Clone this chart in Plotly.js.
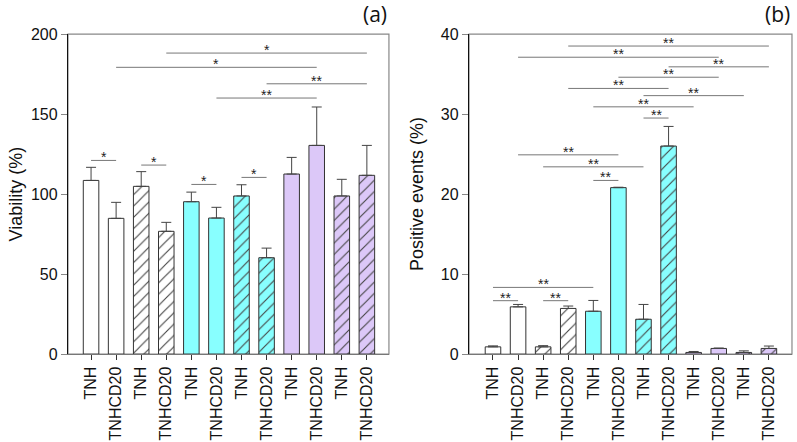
<!DOCTYPE html>
<html>
<head>
<meta charset="utf-8">
<script src="https://cdn.plot.ly/plotly-3.0.1.min.js"></script>
<style>html,body{margin:0;padding:0;background:#fff;}#chart{width:797px;height:442px;}</style>
</head>
<body>
<div id="chart"></div>
<script>
// ---- data ----
const categories = ['TNH','TNHCD20','TNH','TNHCD20','TNH','TNHCD20','TNH','TNHCD20','TNH','TNHCD20','TNH','TNHCD20'];
const viability = [108.5, 84.8, 104.8, 76.7, 95.2, 85.0, 98.8, 60.2, 112.5, 130.4, 98.8, 111.7];
const viabilityErr = [8.2, 10.0, 9.2, 5.6, 6.0, 6.7, 7.0, 6.0, 10.4, 24.0, 10.4, 18.7];
const positive = [0.9, 5.9, 0.9, 5.7, 5.35, 20.8, 4.35, 26.0, 0.2, 0.7, 0.2, 0.7];
const positiveErr = [0.12, 0.3, 0.15, 0.3, 1.35, 0.05, 1.85, 2.45, 0.12, 0.05, 0.2, 0.3];
const barColors = ['#ffffff','#ffffff','#ffffff','#ffffff','#88ffff','#88ffff','#88ffff','#88ffff','#dcc8f8','#dcc8f8','#dcc8f8','#dcc8f8'];
const hatch = ['','','/','/','','','/','/','','','/','/'];

const sigA_from  = [0, 2, 4, 6, 5, 7, 1, 3];
const sigA_to    = [1, 3, 5, 7, 9, 11, 9, 11];
const sigA_y     = [121, 118.1, 106, 110.4, 160, 168.9, 179.2, 188.1];
const sigA_label = ['*','*','*','*','**','**','*','*'];

const sigB_from  = [3, 1, 7, 5, 3, 6, 4, 6, 1, 2, 4, 0, 0, 2];
const sigB_to    = [11, 9, 11, 9, 7, 10, 8, 7, 5, 6, 5, 4, 1, 3];
const sigB_y     = [38.5, 37.1, 35.9, 34.6, 33.2, 32.3, 30.9, 29.5, 24.9, 23.4, 21.7, 8.33, 6.67, 6.67];
const sigB_label = ['**','**','**','**','**','**','**','**','**','**','**','**','**','**'];

// ---- build ----
const FONT = 'Liberation Sans';
const xs = categories.map((_, i) => i);
function barTrace(vals, errs, xa, ya) {
  return {
    type: 'bar', x: xs, y: vals, xaxis: xa, yaxis: ya, width: 0.62,
    marker: {
      color: barColors,
      line: {color: '#333', width: 1},
      pattern: {shape: hatch, fillmode: 'overlay', fgcolor: '#1a1a1a', fgopacity: 1, size: 8, solidity: 0.14}
    },
    error_y: {type: 'data', symmetric: false, array: errs, arrayminus: errs.map(() => 0),
      color: '#444', thickness: 1, width: 5},
    showlegend: false, hoverinfo: 'skip'
  };
}
const data = [barTrace(viability, viabilityErr, 'x', 'y'), barTrace(positive, positiveErr, 'x2', 'y2')];

const shapes = [];
const annotations = [];
function addSig(from, to, ys, labels, xr, yr) {
  for (let k = 0; k < from.length; k++) {
    shapes.push({type: 'line', xref: xr, yref: yr, x0: from[k], x1: to[k], y0: ys[k], y1: ys[k],
      line: {color: '#777', width: 1}});
    annotations.push({xref: xr, yref: yr, x: (from[k] + to[k]) / 2, y: ys[k], text: labels[k],
      showarrow: false, yanchor: 'bottom', yshift: -7, font: {family: FONT, size: 14, color: '#222'}});
  }
}
addSig(sigA_from, sigA_to, sigA_y, sigA_label, 'x', 'y');
addSig(sigB_from, sigB_to, sigB_y, sigB_label, 'x2', 'y2');

// frames (gray box), left spine black drawn by axis
shapes.push({type: 'rect', xref: 'x domain', yref: 'y domain', x0: 0, x1: 1, y0: 0, y1: 1, layer: 'below', line: {color: '#888', width: 1.2}});
shapes.push({type: 'rect', xref: 'x2 domain', yref: 'y2 domain', x0: 0, x1: 1, y0: 0, y1: 1, layer: 'below', line: {color: '#888', width: 1.2}});

annotations.push({xref: 'paper', yref: 'paper', x: 0.488, y: 1, xanchor: 'right', yanchor: 'top', yshift: 2,
  text: '(a)', showarrow: false, font: {family: 'Open Sans', size: 21, color: '#111'}});
annotations.push({xref: 'paper', yref: 'paper', x: 0.9937, y: 1, xanchor: 'right', yanchor: 'top', yshift: 2,
  text: '(b)', showarrow: false, font: {family: 'Open Sans', size: 21, color: '#111'}});

const tickFont = {family: FONT, size: 16, color: '#111'};
function xAxis(dom, range) {
  return {domain: dom, range: range, tickvals: xs, ticktext: categories, tickangle: -90,
    ticks: 'outside', ticklen: 5, tickcolor: '#333', showline: true, linecolor: '#777', linewidth: 1.2,
    showgrid: false, zeroline: false, tickfont: tickFont, fixedrange: true, automargin: false};
}
function yAxis(range, dtick, title, anchor) {
  return {domain: [0.199, 0.923], range: range, dtick: dtick, anchor: anchor,
    ticks: 'outside', ticklen: 6, tickcolor: '#888', showline: true, linecolor: '#111', linewidth: 1.2,
    showgrid: false, zeroline: false, tickfont: tickFont, automargin: false,
    title: {text: title, font: {family: FONT, size: 18, color: '#111'}}};
}

const layout = {
  width: 797, height: 442, margin: {l: 0, r: 0, t: 0, b: 0},
  paper_bgcolor: '#fff', plot_bgcolor: '#fff',
  font: {family: FONT},
  xaxis: Object.assign(xAxis([0.0853, 0.488], [-0.92, 11.88]), {anchor: 'y'}),
  yaxis: yAxis([0, 200], 50, 'Viability (%)', 'x'),
  xaxis2: Object.assign(xAxis([0.5885, 0.9937], [-0.955, 11.92]), {anchor: 'y2'}),
  yaxis2: yAxis([0, 40], 10, 'Positive events (%)', 'x2'),
  shapes: shapes, annotations: annotations, bargap: 0
};

Plotly.newPlot('chart', data, layout, {staticPlot: true, displayModeBar: false});
</script>
</body>
</html>
